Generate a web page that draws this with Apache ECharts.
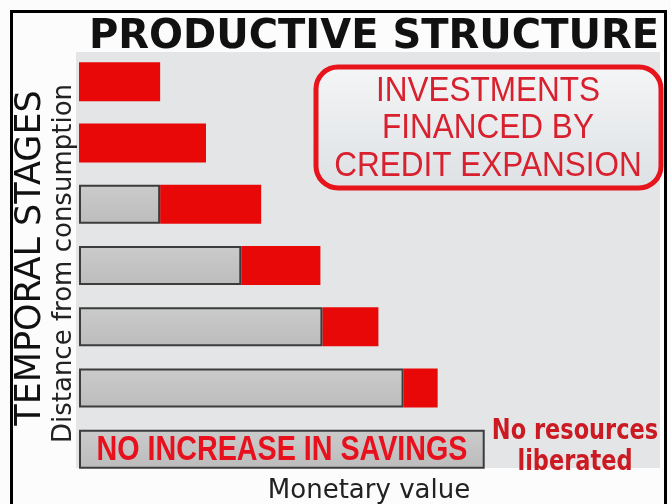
<!DOCTYPE html>
<html>
<head>
<meta charset="utf-8">
<title>Productive structure</title>
<script src="https://cdn.jsdelivr.net/npm/echarts@6/dist/echarts.min.js"></script>
<style>
  html, body { margin: 0; padding: 0; background: #fcfcfc; }
  #chart { width: 671px; height: 504px; }
</style>
</head>
<body>
<div id="chart"></div>
<script>
// stages, top = furthest from consumption
const stages = ["S1", "S2", "S3", "S4", "S5", "S6", "S7"]
// monetary value financed by savings (gray) and by credit expansion (red)
const savings = ["-", "-", 20, 40, 60, 80, 100]
const credit = [20, 31.3, 24.9, 19.5, 13.8, 8.4, "-"]
const boxLines = ["INVESTMENTS", "FINANCED BY", "CREDIT EXPANSION"]
const savingsNote = "NO INCREASE IN SAVINGS"
const sideNote = "No resources\nliberated"

const chart = echarts.init(document.getElementById("chart"))

const grayStyle = {
  color: new echarts.graphic.LinearGradient(0, 0, 0, 1, [
    { offset: 0, color: "#cbcbcb" },
    { offset: 1, color: "#bcbcbc" },
  ]),
  borderColor: "#3c3c3c",
  borderWidth: 2,
}

const option = {
  animation: false,
  backgroundColor: "#fcfcfc",
  title: {
    text: "PRODUCTIVE STRUCTURE",
    left: 369,
    top: 13,
    textAlign: "center",
    textStyle: {
      fontFamily: "DejaVu Sans",
      fontWeight: "bold",
      fontSize: 40,
      color: "#111",
    },
  },
  grid: { left: 79, right: 24, top: 51, bottom: 24, outerBoundsMode: "none" },
  xAxis: {
    type: "value",
    min: 0,
    max: 140,
    name: "Monetary value",
    nameLocation: "middle",
    nameGap: -2,
    nameTextStyle: {
      fontFamily: "DejaVu Sans",
      fontSize: 26,
      color: "#222",
      verticalAlign: "top",
      padding: [0, 0, 0, 12],
    },
    axisLine: { show: false },
    axisTick: { show: false },
    axisLabel: { show: false },
    splitLine: { show: false },
  },
  yAxis: {
    type: "category",
    inverse: true,
    data: stages,
    name: "Distance from consumption",
    nameLocation: "middle",
    nameRotate: 90,
    nameGap: 2,
    nameTextStyle: {
      fontFamily: "DejaVu Sans",
      fontSize: 26,
      color: "#222",
      padding: [0, 0, 0, 4],
    },
    axisLine: { show: false },
    axisTick: { show: false },
    axisLabel: { show: false },
  },
  series: [
    {
      name: "Savings",
      type: "bar",
      stack: "total",
      barWidth: 39,
      itemStyle: grayStyle,
      z: 3,
      data: savings,
    },
    {
      name: "Credit expansion",
      type: "bar",
      stack: "total",
      barWidth: 39,
      itemStyle: { color: "#e80808" },
      z: 2,
      data: credit,
    },
  ],
  graphic: [
    {
      type: "rect",
      z: -10,
      shape: { x: 76, y: 52, width: 584, height: 416 },
      style: { fill: "#e3e5e7" },
    },
    {
      type: "rect",
      z: 10,
      shape: { x: 11.5, y: 11.5, width: 654, height: 520 },
      style: { fill: "none", stroke: "#000", lineWidth: 3 },
    },
    {
      type: "rect",
      z: 5,
      shape: { x: 316, y: 67, width: 345, height: 121, r: 22 },
      style: {
        fill: new echarts.graphic.LinearGradient(0, 0, 0, 1, [
          { offset: 0, color: "#f4f5f6" },
          { offset: 1, color: "#dde1e4" },
        ]),
        stroke: "#e8141c",
        lineWidth: 5,
      },
    },
    ...boxLines.map((t, i) => ({
      type: "text",
      z: 6,
      x: 488,
      y: 91 + i * 37.5,
      scaleX: 0.9,
      style: {
        text: t,
        textAlign: "center",
        textVerticalAlign: "middle",
        font: "35px 'Liberation Sans'",
        fill: "#d8202e",
      },
    })),
    {
      type: "text",
      z: 6,
      x: 282,
      y: 450,
      scaleX: 0.82,
      style: {
        text: savingsNote,
        textAlign: "center",
        textVerticalAlign: "middle",
        font: "bold 35px 'Liberation Sans'",
        fill: "#e8101c",
      },
    },
    {
      type: "text",
      z: 6,
      x: 31,
      y: 258,
      rotation: Math.PI / 2,
      style: {
        text: "TEMPORAL STAGES",
        textAlign: "center",
        textVerticalAlign: "middle",
        font: "35px 'DejaVu Sans'",
        fill: "#111",
      },
    },
    {
      type: "text",
      z: 6,
      x: 575,
      y: 447,
      scaleY: 1.1,
      style: {
        text: sideNote,
        textAlign: "center",
        textVerticalAlign: "middle",
        font: "bold 25px 'DejaVu Sans Condensed', 'DejaVu Sans'",
        lineHeight: 28,
        fill: "#cc1a22",
      },
    },
  ],
}

chart.setOption(option)
</script>
</body>
</html>
